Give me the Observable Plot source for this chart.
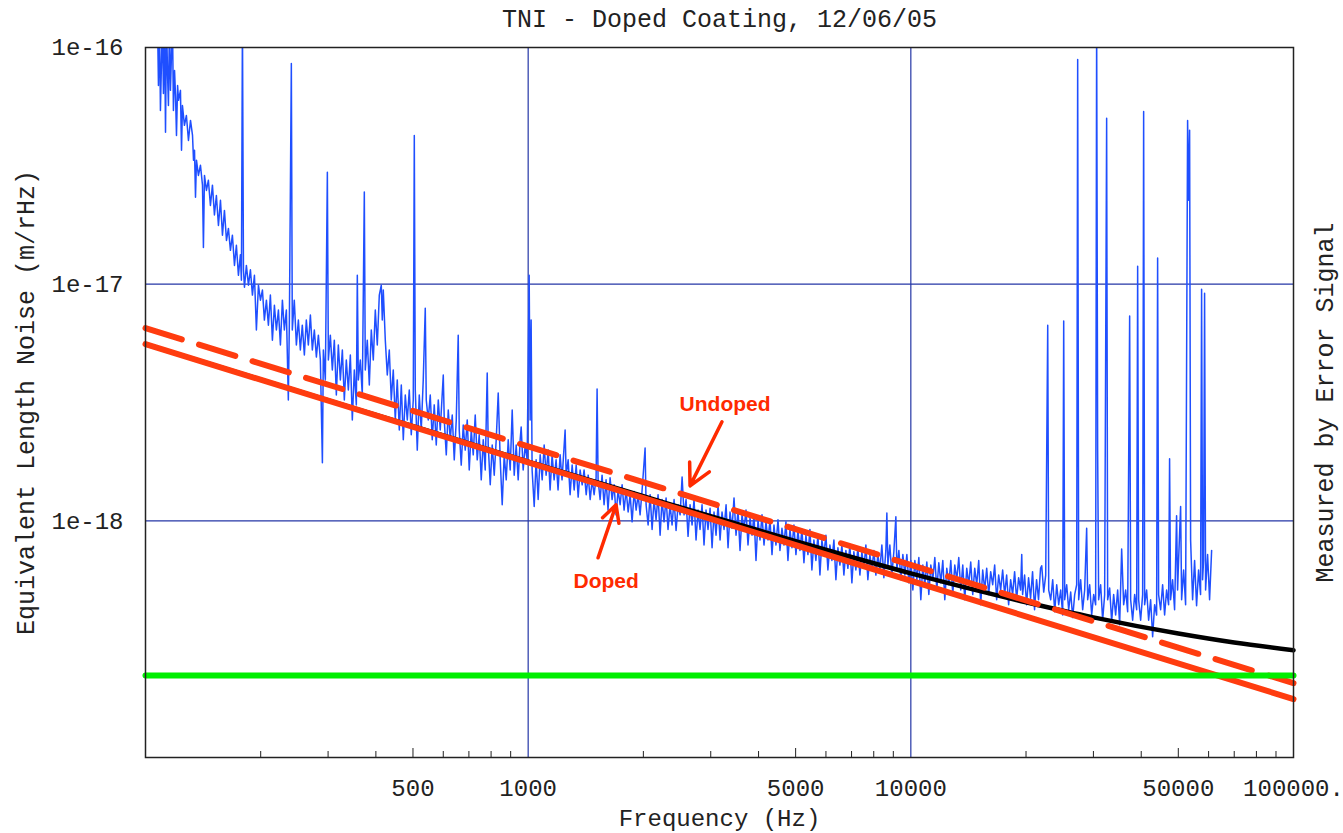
<!DOCTYPE html>
<html><head><meta charset="utf-8">
<script src="https://cdn.jsdelivr.net/npm/d3@7"></script>
<script src="https://cdn.jsdelivr.net/npm/@observablehq/plot@0.6"></script>
<style>body{margin:0;background:#fff}</style>
</head><body><div id="chart"></div>
<script>
// amplitudes are in units of 1e-18 m/rHz
const UNIT = 1e-18;
const titleText = "TNI - Doped Coating, 12/06/05";
const xLabel = "Frequency (Hz)";
const yLabel = "Equivalent Length Noise (m/rHz)";
const rightLabel = "Measured by Error Signal";

// measured error-signal spectrum
const blueHz = [107.5,108.1,108.8,109.4,110.7,111.4,112.1,112.8,113.5,114.2,114.8,115.5,116.2,117.6,118.3,119.1,119.8,120.5,121.3,122.0,123.4,124.2,124.9,126.4,127.9,129.5,131.1,132.7,133.5,134.3,135.1,135.9,137.5,139.2,140.9,141.7,142.6,144.3,146.0,147.8,149.6,151.4,153.2,155.1,157.0,158.9,160.8,162.8,164.7,166.7,168.7,170.8,172.8,174.9,177.0,178.1,179.2,180.3,181.4,183.5,185.8,188.0,190.3,192.6,194.9,197.3,199.7,202.1,204.5,207.0,209.5,212.0,214.6,217.2,219.8,222.5,225.2,227.9,230.6,233.4,236.2,237.7,240.5,241.9,244.8,247.9,250.9,253.9,256.9,260.1,263.2,266.4,269.7,272.9,276.2,279.6,283.0,286.4,289.9,291.6,295.1,298.7,300.5,304.1,307.8,311.5,315.3,319.1,323.0,326.9,330.8,334.8,338.9,343.0,347.1,351.3,355.6,357.7,359.9,364.2,368.6,373.1,375.3,379.8,384.5,389.1,393.8,398.6,403.4,408.3,413.2,415.7,418.2,423.3,428.4,433.6,438.8,444.1,449.5,454.9,460.5,466.1,471.7,477.4,483.2,489.0,494.9,500.9,504.0,507.0,513.1,519.3,525.5,531.9,538.4,541.6,548.1,554.8,561.5,568.3,575.2,582.2,589.2,600.0,603.6,610.9,618.3,625.7,633.3,641.0,648.8,656.5,660.5,668.5,676.6,684.8,693.1,701.5,710.0,718.6,727.2,736.0,744.9,754.0,763.1,772.3,781.6,786.3,795.9,805.5,815.3,825.1,835.1,845.2,855.4,865.8,876.3,886.9,897.5,908.4,919.4,930.5,941.7,953.0,958.8,970.4,982.2,994.0,1006,1012,1018,1024,1037,1049,1062,1075,1088,1101,1114,1128,1141,1155,1169,1183,1197,1212,1226,1249,1257,1272,1287,1303,1319,1335,1351,1367,1384,1400,1418,1435,1452,1470,1487,1505,1514,1523,1542,1560,1579,1598,1617,1637,1657,1677,1697,1718,1739,1760,1781,1803,1825,1847,1869,1892,1915,1938,1961,1985,2021,2033,2058,2083,2108,2133,2159,2185,2212,2238,2265,2293,2320,2349,2377,2406,2435,2465,2495,2525,2555,2586,2617,2649,2681,2713,2746,2779,2813,2847,2881,2916,2951,2988,3024,3060,3097,3135,3173,3211,3250,3290,3329,3369,3410,3451,3493,3535,3578,3621,3665,3709,3754,3800,3846,3892,3939,3987,4035,4084,4133,4183,4234,4285,4337,4389,4442,4496,4550,4605,4661,4717,4774,4832,4890,4949,5009,5070,5131,5193,5256,5319,5384,5449,5514,5581,5648,5717,5787,5856,5927,5999,6071,6145,6219,6295,6371,6448,6526,6605,6684,6765,6847,6930,7014,7098,7184,7271,7360,7449,7539,7630,7722,7816,7910,8006,8103,8201,8300,8400,8502,8605,8657,8709,8814,8921,9029,9139,9194,9305,9418,9532,9647,9764,9882,10000,10122,10245,10369,10494,10620,10749,10879,11010,11143,11278,11414,11552,11692,11833,11976,12121,12267,12416,12566,12718,12871,13027,13184,13343,13505,13668,13833,14000,14169,14340,14513,14689,14866,15045,15227,15411,15597,15785,15976,16169,16364,16561,16761,16964,17168,17376,17585,17798,18013,18230,18450,18673,18898,19126,19357,19491,19591,19828,20067,20309,20554,20802,21053,21307,21564,21825,21981,22247,22516,22789,22926,23203,23483,23768,24054,24345,24639,24937,25089,25240,25544,25853,26166,26481,26804,27127,27290,27455,27786,28122,28463,28806,28980,29333,29688,30047,30405,30590,30774,30960,31336,31715,32099,32487,32683,33080,33480,33885,34295,34710,35133,35558,35988,36423,36864,37310,37535,37988,38451,38918,39150,39386,39861,40343,40586,40830,41323,41824,42330,42843,43360,43883,44148,44413,44952,45496,46045,46602,47160,47445,47731,48313,48897,49486,49784,50084,50701,51007,51622,52247,52877,53197,53520,53841,54491,55149,55814,56487,57169,57521,57868,58218,58567,58920,59636,60356,61100];
const blueAmp = [130,69.1,130,54.2,130,63.9,130,43.8,130,76.2,56.9,130,65.9,130,54.2,80.0,62.7,42.5,69.1,59.8,65.9,36.8,56.9,46.9,51.6,40.5,49.2,42.5,33.4,36.8,23.3,33.4,28.8,31.8,26.2,14.3,28.8,24.9,27.5,21.5,26.2,19.6,23.7,17.7,22.6,16.1,20.5,15.3,17.2,13.9,16.1,12.0,14.6,10.9,13.3,10.4,130,11.5,9.71,12.0,9.9,11.5,8.99,10.9,6.40,9.9,8.56,9.44,7.05,8.56,6.71,8.99,5.80,8.15,6.40,7.77,5.53,8.56,6.40,7.77,3.24,7.05,85.6,6.40,8.56,5.53,7.05,5.27,6.71,5.02,7.05,5.53,7.40,5.27,6.40,4.92,6.09,4.78,1.76,5.27,3.94,29.7,4.78,6.09,4.34,5.80,3.40,5.53,3.94,5.27,3.24,4.78,3.57,5.02,2.67,4.34,3.09,10.9,3.94,4.78,3.40,24.5,4.34,5.80,3.75,6.40,4.78,7.77,5.53,8.99,9.9,7.05,9.44,5.80,4.13,5.27,3.24,4.34,2.67,3.94,2.42,3.75,2.20,3.40,2.67,3.57,2.31,3.24,42.5,3.57,1.99,3.40,2.42,3.94,7.92,3.24,2.67,3.40,2.20,3.09,2.09,3.24,2.42,4.13,2.67,1.90,2.94,2.20,2.80,1.81,2.67,6.09,2.42,1.72,2.54,1.99,2.67,1.64,2.42,1.90,2.80,1.81,2.31,1.49,2.20,1.64,4.21,2.09,1.42,2.09,1.56,2.20,3.47,1.81,1.17,1.90,1.49,2.20,1.64,2.94,1.56,2.09,1.49,2.20,2.49,1.64,2.09,1.81,10.9,2.67,7.05,1.64,1.15,1.81,1.23,1.90,1.49,2.09,1.56,1.99,1.35,1.90,1.49,1.81,1.35,1.90,1.49,2.42,1.56,1.81,1.29,1.72,1.35,1.72,1.26,1.64,1.42,1.64,1.29,1.56,1.23,1.49,1.29,1.52,3.61,1.49,1.23,1.56,1.17,1.49,1.11,1.52,1.23,1.42,1.06,1.35,1.17,1.42,1.11,1.35,1.09,1.29,0.99,1.33,1.11,1.29,1.06,1.35,2.03,1.17,0.96,1.29,0.92,1.23,1.01,1.29,0.87,1.23,0.99,1.25,0.92,1.17,0.96,1.23,0.91,1.17,1.06,1.53,1.06,1.23,0.86,1.17,0.96,1.23,0.83,1.11,0.92,1.17,0.79,1.11,0.92,1.13,0.77,1.09,0.87,1.17,0.83,1.09,0.92,1.17,0.77,1.09,0.93,1.25,0.87,1.11,0.75,1.06,0.92,1.11,0.79,1.03,0.87,1.06,0.68,1.01,0.83,1.06,0.79,0.99,0.83,1.01,0.72,0.96,0.79,1.01,0.75,0.93,0.79,0.99,0.68,0.92,0.77,0.96,0.72,0.91,0.75,0.92,0.665,0.87,0.72,0.92,0.62,0.83,0.68,0.87,0.59,0.83,0.72,0.87,0.62,0.79,0.68,0.83,0.564,0.77,0.65,0.79,0.59,0.75,0.63,0.79,0.547,0.74,0.62,0.77,0.59,0.74,0.63,0.79,0.564,0.72,0.62,0.75,0.59,0.72,0.62,0.79,0.575,0.75,1.08,0.65,0.79,0.59,0.74,1.04,0.62,0.75,0.564,0.72,0.59,0.72,0.547,0.68,0.51,0.68,0.564,0.70,0.464,0.65,0.537,0.67,0.488,0.65,0.564,0.70,0.51,0.665,0.547,0.68,0.464,0.63,0.537,0.68,0.488,0.65,0.564,0.70,0.51,0.65,0.464,0.63,0.537,0.67,0.488,0.63,0.537,0.68,0.442,0.62,0.51,0.63,0.488,0.61,0.537,0.65,0.464,0.59,0.51,0.62,0.488,0.59,0.442,0.564,0.488,0.61,0.464,0.575,0.51,0.72,0.488,0.59,0.442,0.575,0.47,0.61,0.421,0.564,0.464,0.63,0.646,0.50,0.59,6.71,0.51,0.464,0.564,0.413,0.537,0.442,0.51,0.40,6.98,0.464,0.537,0.421,0.50,0.39,0.488,0.537,89.0,0.464,0.564,0.421,0.51,0.93,0.464,0.537,0.40,0.488,0.442,130,1.99,0.464,0.537,0.38,0.488,50.2,0.464,0.52,0.375,0.488,0.40,0.51,0.364,0.76,0.442,0.51,0.413,7.33,0.464,0.38,0.488,0.421,11.9,0.464,0.38,0.488,53.7,0.442,0.51,0.38,0.464,0.324,0.442,0.40,12.9,0.488,0.421,0.537,0.40,0.51,0.442,1.83,0.464,0.564,0.421,1.05,0.51,0.68,1.15,0.464,0.62,0.442,49.2,22.6,44.7,0.83,0.464,0.68,0.438,0.62,0.488,9.52,0.564,0.68,9.16,0.51,0.72,0.464,0.75];

// model curves
const modelHz = [100, 100000];
const dopedAmp = [5.58, 0.1765];
const undopedAmp = [6.52, 0.206];
const floorAmp = [0.222, 0.222];
const totalHz = [100, 200, 500, 1000, 2000, 5000, 10000, 20000, 30000, 50000, 70000, 100000];
const totalAmp = [5.58, 3.95, 2.51, 1.78, 1.27, 0.82, 0.60, 0.453, 0.391, 0.334, 0.306, 0.284];

// annotations
const noteLabels = ["Undoped", "Doped"];
const noteHz = [3270, 1599];
const noteAmp = [3.12, 0.558];
const arrowHz1 = [3210, 1523];
const arrowAmp1 = [2.62, 0.698];
const arrowHz2 = [2649, 1697];
const arrowAmp2 = [1.405, 1.168];

// axes
const xTickLabels = [500, 1000, 5000, 10000, 50000, 100000];
const xMinorTicks = [200,300,400,600,700,800,900,2000,3000,4000,6000,7000,8000,9000,20000,30000,40000,60000,70000,80000,90000];
const xMajorTicks = [500, 5000, 50000];
const yTicks = [1e-16, 1e-17, 1e-18];
const gridXs = [1000, 10000];
const gridYs = [1e-17, 1e-18];

const blue = blueHz.map((f, i) => ({f, a: blueAmp[i] * UNIT}));
const pairs = (hz, amp) => hz.map((f, i) => ({f, a: amp[i] * UNIT}));
const doped = pairs(modelHz, dopedAmp);
const undoped = pairs(modelHz, undopedAmp);
const floorLine = pairs(modelHz, floorAmp);
const total = pairs(totalHz, totalAmp);
const notes = noteLabels.map((t, i) => ({t, f: noteHz[i], a: noteAmp[i] * UNIT}));
const arrows = arrowHz1.map((f1, i) => ({f1, a1: arrowAmp1[i] * UNIT, f2: arrowHz2[i], a2: arrowAmp2[i] * UNIT}));

const RED = "#ff3c0f";
const GRID = "#2436a6";

const chart = Plot.plot({
  width: 1343, height: 833,
  marginLeft: 145, marginRight: 50, marginTop: 47, marginBottom: 76,
  style: {fontFamily: "'Liberation Mono', 'Courier New', monospace", fontSize: "24px", color: "#222", background: "#fff"},
  x: {type: "log", domain: [100, 100000]},
  y: {type: "log", domain: [1e-19, 1e-16]},
  marks: [
    Plot.gridX(gridXs, {stroke: GRID, strokeOpacity: 1, strokeWidth: 1.2}),
    Plot.gridY(gridYs, {stroke: GRID, strokeOpacity: 1, strokeWidth: 1.2}),
    Plot.line(blue, {x: "f", y: "a", stroke: "#1f4fff", strokeWidth: 1.5, clip: true}),
    Plot.line(total, {x: "f", y: "a", stroke: "#000", strokeWidth: 4.5, curve: "monotone-x"}),
    Plot.line(undoped, {x: "f", y: "a", stroke: RED, strokeWidth: 6, strokeDasharray: "38,18"}),
    Plot.line(doped, {x: "f", y: "a", stroke: RED, strokeWidth: 6}),
    Plot.line(floorLine, {x: "f", y: "a", stroke: "#00ee00", strokeWidth: 6}),
    Plot.arrow(arrows, {x1: "f1", y1: "a1", x2: "f2", y2: "a2", stroke: "#ff2a00", strokeWidth: 3.5, headLength: 12, headAngle: 55}),
    Plot.text(notes, {x: "f", y: "a", text: "t", fill: "#ff2a00", fontFamily: "'Liberation Sans', Arial, sans-serif", fontWeight: "bold", fontSize: 21}),
    Plot.frame({stroke: "#222", strokeWidth: 1.5}),
    Plot.axisX(xMinorTicks, {tickSize: -6, fill: "none", label: null}),
    Plot.axisX(xMajorTicks, {tickSize: -9, fill: "none", label: null}),
    Plot.axisX(xTickLabels, {tickSize: 0, tickPadding: 21, tickFormat: d => d === 100000 ? "100000." : String(d), label: null}),
    Plot.axisY(yTicks, {tickSize: 0, tickPadding: 22, tickFormat: d => "1e-" + Math.round(-Math.log10(d)), label: null}),
    Plot.text([titleText], {text: d => d, frameAnchor: "top", lineAnchor: "middle", textAnchor: "middle", dy: -29, fontSize: 25}),
    Plot.text([xLabel], {text: d => d, frameAnchor: "bottom", lineAnchor: "middle", textAnchor: "middle", dy: 61}),
    Plot.text([yLabel], {text: d => d, frameAnchor: "left", lineAnchor: "middle", textAnchor: "middle", dx: -120, rotate: -90, fontSize: 25}),
    Plot.text([rightLabel], {text: d => d, frameAnchor: "right", lineAnchor: "middle", textAnchor: "middle", dx: 31, rotate: -90, fontSize: 25})
  ]
});
document.getElementById("chart").appendChild(chart);
</script>
</body></html>
